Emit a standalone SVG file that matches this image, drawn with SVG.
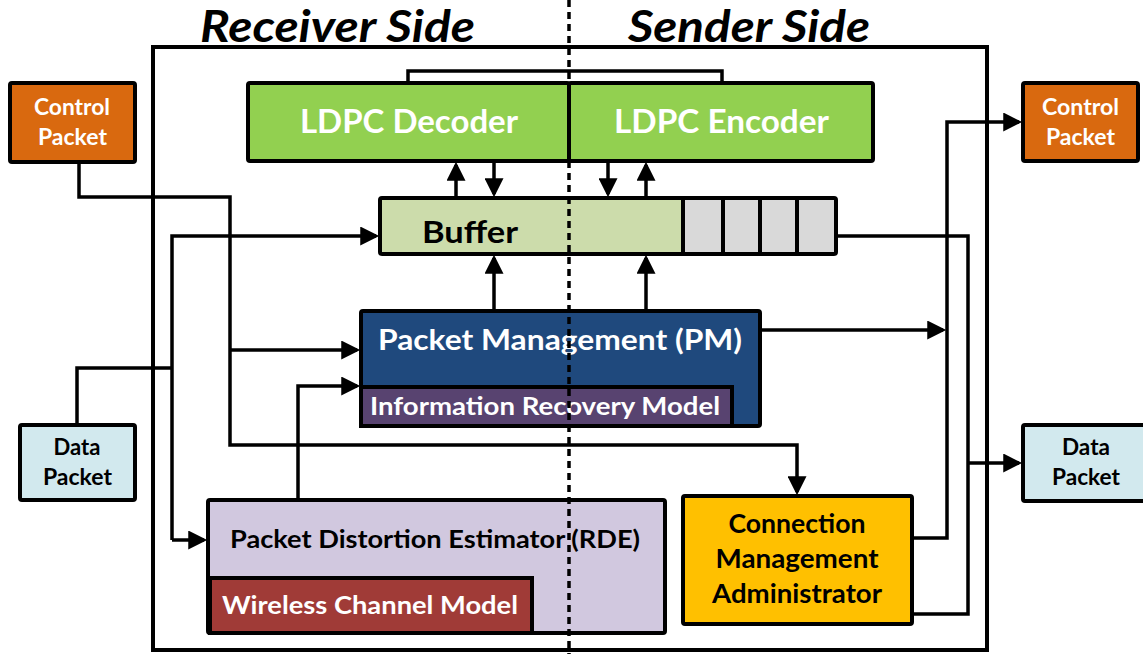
<svg xmlns="http://www.w3.org/2000/svg" width="1143" height="654" viewBox="0 0 1143 654">
  <defs>
    <marker id="arrow" viewBox="0 0 10 10" markerUnits="userSpaceOnUse" markerWidth="24" markerHeight="19" refX="8.3" refY="5" orient="auto">
      <path d="M0,0 L10,5 L0,10 z" fill="#000"/>
    </marker>
  </defs>
  <style>
    .box { stroke: #000; stroke-width: 4; }
    .wire { fill: none; stroke: #000; stroke-width: 3.5; }
    .arr { marker-end: url(#arrow); }
    text { font-family: Lato, "Open Sans", "Liberation Sans", sans-serif; font-weight: bold; text-anchor: middle; }
    .w { fill: #fff; }
    .k { fill: #000; }
    .title { font-style: italic; font-size: 44px; fill: #000; text-anchor: start; }
  </style>

  <rect width="1143" height="654" fill="#fff"/>

  <!-- side headings -->
  <text class="title" x="200" y="42" textLength="275" lengthAdjust="spacingAndGlyphs">Receiver Side</text>
  <text class="title" x="628" y="42" textLength="242" lengthAdjust="spacingAndGlyphs">Sender Side</text>

  <!-- system boundary -->
  <rect id="system" x="153" y="47" width="834" height="603" fill="none" stroke="#000" stroke-width="4"/>

  <!-- connectors -->
  <g id="connectors">
    <!-- decoder / encoder link -->
    <path class="wire" d="M408,83 V71 H722 V83"/>
    <!-- control packet in -> PM and CMA -->
    <path class="wire arr" d="M79,162 V197 H230 V445 H797 V492"/>
    <path class="wire arr" d="M230,350 H357"/>
    <!-- data packet in -> buffer and estimator -->
    <path class="wire" d="M77,425 V368 H172"/>
    <path class="wire arr" d="M172,540 V236 H376"/>
    <path class="wire arr" d="M172,540 H204"/>
    <!-- estimator -> PM -->
    <path class="wire arr" d="M298,500 V386 H357"/>
    <!-- buffer <-> LDPC -->
    <path class="wire arr" d="M456,198 V165"/>
    <path class="wire arr" d="M494,161 V194"/>
    <path class="wire arr" d="M608,161 V194"/>
    <path class="wire arr" d="M646,198 V165"/>
    <!-- PM -> buffer -->
    <path class="wire arr" d="M494,311 V258"/>
    <path class="wire arr" d="M646,311 V258"/>
    <!-- PM -> outgoing control line -->
    <path class="wire arr" d="M760,330 H943"/>
    <!-- CMA -> control packet out -->
    <path class="wire arr" d="M912,538 H947 V122 H1019"/>
    <!-- buffer / CMA -> data packet out -->
    <path class="wire" d="M836,236 H968 V614 H912"/>
    <path class="wire arr" d="M968,463 H1019"/>
  </g>

  <!-- external packets -->
  <g id="control-in">
    <rect class="box" x="10" y="83" width="125" height="79" rx="2" fill="#D9690F"/>
    <text class="w" x="72" y="115" font-size="22" textLength="76" lengthAdjust="spacingAndGlyphs">Control</text>
    <text class="w" x="72.5" y="145" font-size="22" textLength="69" lengthAdjust="spacingAndGlyphs">Packet</text>
  </g>
  <g id="data-in">
    <rect class="box" x="20" y="425" width="115" height="75" rx="2" fill="#D2E9EE"/>
    <text class="k" x="77" y="455" font-size="22" textLength="47" lengthAdjust="spacingAndGlyphs">Data</text>
    <text class="k" x="77.5" y="485" font-size="22" textLength="69" lengthAdjust="spacingAndGlyphs">Packet</text>
  </g>
  <g id="control-out">
    <rect class="box" x="1023" y="83" width="115" height="78" rx="2" fill="#D9690F"/>
    <text class="w" x="1080.5" y="115" font-size="22" textLength="77" lengthAdjust="spacingAndGlyphs">Control</text>
    <text class="w" x="1080.5" y="145" font-size="22" textLength="69" lengthAdjust="spacingAndGlyphs">Packet</text>
  </g>
  <g id="data-out">
    <rect class="box" x="1023" y="425" width="124" height="76" rx="2" fill="#D2E9EE"/>
    <text class="k" x="1086" y="455" font-size="22" textLength="48" lengthAdjust="spacingAndGlyphs">Data</text>
    <text class="k" x="1086" y="485" font-size="22" textLength="68" lengthAdjust="spacingAndGlyphs">Packet</text>
  </g>

  <!-- LDPC codec -->
  <g id="ldpc-decoder">
    <rect class="box" x="248" y="83" width="321" height="78" rx="2" fill="#92D050"/>
    <text class="w" x="409" y="133" font-size="32" textLength="218" lengthAdjust="spacingAndGlyphs">LDPC Decoder</text>
  </g>
  <g id="ldpc-encoder">
    <rect class="box" x="569" y="83" width="304" height="78" rx="2" fill="#92D050"/>
    <text class="w" x="721.5" y="133" font-size="32" textLength="215" lengthAdjust="spacingAndGlyphs">LDPC Encoder</text>
  </g>

  <!-- buffer with queue cells -->
  <g id="buffer">
    <rect class="box" x="380" y="198" width="303" height="56" rx="2" fill="#CCDCAB"/>
    <rect class="box" x="683" y="198" width="40" height="56" fill="#D9D9D9"/>
    <rect class="box" x="723" y="198" width="37" height="56" fill="#D9D9D9"/>
    <rect class="box" x="760" y="198" width="37" height="56" fill="#D9D9D9"/>
    <rect class="box" x="797" y="198" width="39" height="56" rx="2" fill="#D9D9D9"/>
    <text class="k" x="470" y="243" font-size="30" textLength="96" lengthAdjust="spacingAndGlyphs">Buffer</text>
  </g>

  <!-- packet management -->
  <g id="packet-management">
    <rect class="box" x="361" y="311" width="399" height="115" rx="2" fill="#1F497D"/>
    <text class="w" x="560" y="350" font-size="29" textLength="364" lengthAdjust="spacingAndGlyphs">Packet Management (PM)</text>
    <rect class="box" x="361" y="387" width="371" height="39" fill="#584370"/>
    <text class="w" x="545" y="415" font-size="24" textLength="350" lengthAdjust="spacingAndGlyphs">Information Recovery Model</text>
  </g>

  <!-- distortion estimator -->
  <g id="distortion-estimator">
    <rect class="box" x="208" y="500" width="457" height="133" rx="2" fill="#D1C8DF"/>
    <text class="k" x="435" y="548" font-size="24" textLength="410" lengthAdjust="spacingAndGlyphs">Packet Distortion Estimator (RDE)</text>
    <rect class="box" x="210" y="578" width="322" height="55" fill="#A03B37"/>
    <text class="w" x="370" y="614" font-size="25" textLength="296" lengthAdjust="spacingAndGlyphs">Wireless Channel Model</text>
  </g>

  <!-- connection management -->
  <g id="connection-admin">
    <rect class="box" x="683" y="496" width="229" height="128" rx="2" fill="#FFC000"/>
    <text class="k" x="797" y="533" font-size="27" textLength="137" lengthAdjust="spacingAndGlyphs">Connection</text>
    <text class="k" x="797" y="568" font-size="27" textLength="163" lengthAdjust="spacingAndGlyphs">Management</text>
    <text class="k" x="797" y="603" font-size="27" textLength="170" lengthAdjust="spacingAndGlyphs">Administrator</text>
  </g>

  <!-- receiver / sender split -->
  <g id="divider">
    <line x1="569" y1="0" x2="569" y2="83" stroke="#000" stroke-width="3.5" stroke-dasharray="7 5"/>
    <line x1="569" y1="161" x2="569" y2="654" stroke="#000" stroke-width="3.5" stroke-dasharray="7 5"/>
  </g>
</svg>
